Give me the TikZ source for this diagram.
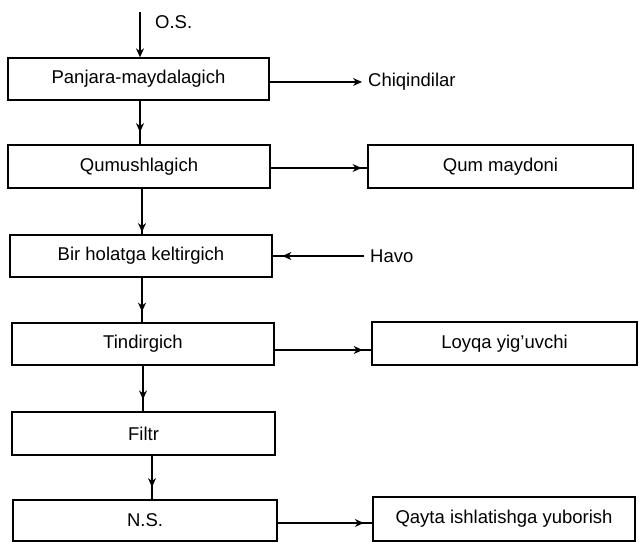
\documentclass[tikz,border=0pt]{standalone}
\usepackage{fontspec}
\setmainfont{Liberation Sans}
\usetikzlibrary{arrows.meta,decorations.markings}
\tikzset{
  box/.style={draw,line width=1.3pt,minimum width=#1,minimum height=42pt,inner sep=0pt,font=\fontsize{18.5}{22}\selectfont},
  box/.default=262pt,
  lbl/.style={inner sep=0pt,anchor=west,font=\fontsize{18.5}{22}\selectfont},
  conn/.style={line width=1.3pt},
  tipA/.style={-{Stealth[length=9pt,width=8pt]}},
  midarr/.style={postaction={decorate},decoration={markings,mark=at position #1 with {\arrow{Stealth[length=9pt,width=8pt]}}}}
}
\begin{document}
\begin{tikzpicture}[x=1pt,y=-1pt]
\useasboundingbox (0,0) rectangle (639,543);
% left column
\node[box=261pt] (P) at (138.5,79) {Panjara-maydalagich};
\node[box=262pt,minimum height=43pt] (Q) at (139,166.5) {Qumushlagich};
\node[box=262pt] (B) at (141,256) {Bir holatga keltirgich};
\node[box=262pt] (T) at (143,344) {Tindirgich};
\node[box=263pt,minimum height=43pt] (F) at (143.5,433.5) {Filtr};
\node[box=264pt,minimum height=41pt] (N) at (145,520.5) {N.S.};
% right column
\node[box=265pt,minimum height=43pt] (QM) at (500.5,166.5) {Qum maydoni};
\node[box=265pt,minimum height=43pt] (L) at (504.5,343.5) {Loyqa yig'uvchi};
\node[box=262pt,minimum height=44pt] (QA) at (504,519) {Qayta ishlatishga yuborish};
% labels
\node[lbl] (OS) at (155,22) {O.S.};
\node[lbl] (Ch) at (368,82) {Chiqindilar};
\node[lbl] (H) at (370,256) {Havo};
\coordinate (in) at (140,12);
% vertical connectors
\draw[conn,tipA] (in) -- (in |- P.north);
\draw[conn,midarr=0.72] (P.south -| 140,0) -- (Q.north -| 140,0);
\draw[conn,midarr=0.95] (Q.south -| 142,0) -- (B.north -| 142,0);
\draw[conn,midarr=0.76] (B.south -| 142,0) -- (T.north -| 142,0);
\draw[conn,midarr=0.74] (T.south -| 143,0) -- (F.north -| 143,0);
\draw[conn,midarr=0.72] (F.south -| 152,0) -- (N.north -| 152,0);
% horizontal connectors
\draw[conn,tipA,shorten >=6pt] (P.east |- 0,82) -- (Ch.west);
\draw[conn,midarr=0.94] (Q.east |- 0,168) -- (QM.west |- 0,168);
\draw[conn,midarr=0.9,shorten <=6pt] (H.west) -- (B.east |- H.west);
\draw[conn,midarr=0.91] (T.east |- 0,350) -- (L.west |- 0,350);
\draw[conn,midarr=0.91] (N.east |- 0,523) -- (QA.west |- 0,523);
\end{tikzpicture}
\end{document}
